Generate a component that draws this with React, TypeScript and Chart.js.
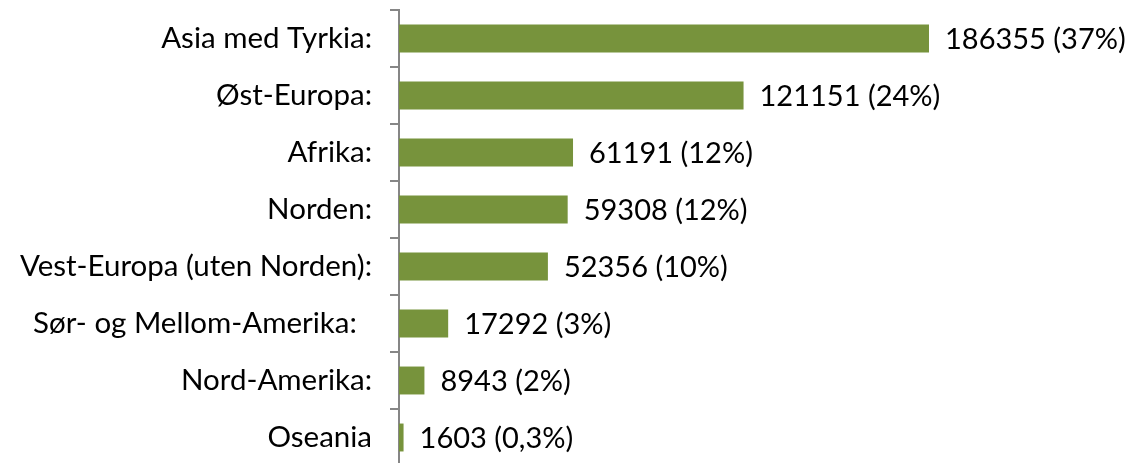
import React, { useEffect, useRef } from "react";
import { Chart, registerables } from "chart.js";

Chart.register(...registerables);

const categories = [
  "Asia med Tyrkia:",
  "Øst-Europa:",
  "Afrika:",
  "Norden:",
  "Vest-Europa (uten Norden):",
  "Sør- og Mellom-Amerika:  ",
  "Nord-Amerika:",
  "Oseania",
];
const values = [186355, 121151, 61191, 59308, 52356, 17292, 8943, 1603];
const shares = ["37%", "24%", "12%", "12%", "10%", "3%", "2%", "0,3%"];

const FONT_FAMILY = "Lato, 'Open Sans', sans-serif";
const FONT_SIZE = 29;
const CAT_FONT_SIZE = 29.5;

const valueLabels = {
  id: "valueLabels",
  afterDatasetsDraw(chart: any) {
    const ctx = chart.ctx;
    const meta = chart.getDatasetMeta(0);
    ctx.save();
    ctx.font = `${FONT_SIZE}px ${FONT_FAMILY}`;
    ctx.fillStyle = "#000000";
    ctx.textAlign = "left";
    ctx.textBaseline = "middle";
    meta.data.forEach((bar: any, i: number) => {
      ctx.fillText(`${values[i]} (${shares[i]})`, bar.x + 16, bar.y + 1);
    });
    ctx.restore();
  },
};

export default function App() {
  const ref = useRef<HTMLCanvasElement | null>(null);
  useEffect(() => {
    if (!ref.current) return;
    const chart = new Chart(ref.current, {
      type: "bar",
      data: {
        labels: categories,
        datasets: [
          {
            data: values,
            backgroundColor: "#77933C",
            categoryPercentage: 1,
            barPercentage: 0.49,
          },
        ],
      },
      options: {
        indexAxis: "y",
        animation: false,
        responsive: false,
        maintainAspectRatio: false,
        layout: { padding: { top: 10, bottom: 14, right: 19, left: 0 } },
        plugins: { legend: { display: false }, tooltip: { enabled: false } },
        scales: {
          x: { display: false, min: 0, max: 250000 },
          y: {
            afterFit: (scale: any) => {
              scale.width = 399;
              scale.paddingTop = 0;
              scale.paddingBottom = 0;
            },
            border: { display: true, color: "#868686", width: 2 },
            grid: {
              display: true,
              offset: true,
              drawOnChartArea: false,
              drawTicks: true,
              tickLength: 9,
              color: "#868686",
              lineWidth: 2,
            },
            ticks: {
              padding: 18,
              color: "#000000",
              font: { family: FONT_FAMILY, size: CAT_FONT_SIZE },
            },
          },
        },
      },
      plugins: [valueLabels],
    });
    return () => chart.destroy();
  }, []);
  return (
    <div style={{ position: "fixed", left: 0, top: 0, width: 1129, height: 480, background: "#fff" }}>
      <canvas ref={ref} width={1129} height={480} style={{ display: "block" }} />
    </div>
  );
}
